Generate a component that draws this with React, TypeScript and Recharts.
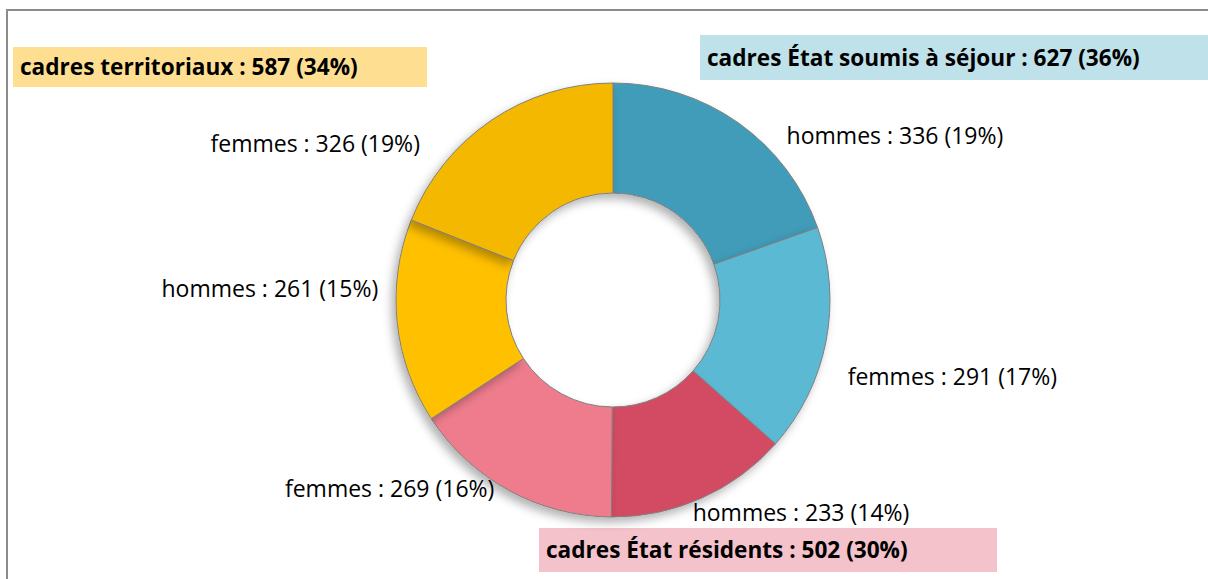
import { PieChart, Pie, Cell } from "recharts"

// slices, clockwise from 12 o'clock
const sliceNames = ["hommes", "femmes", "hommes", "femmes", "hommes", "femmes"]
const sliceValues = [336, 291, 233, 269, 261, 326]
const slicePercents = [19, 17, 14, 16, 15, 19]

// groups shown in the coloured boxes
const groupNames = ["cadres État soumis à séjour", "cadres État résidents", "cadres territoriaux"]
const groupValues = [627, 502, 587]
const groupPercents = [36, 30, 34]

const COLORS = ["#3F9CB9", "#5BB9D4", "#D24C62", "#EE7C8D", "#FFC000", "#F5B800"]
const BOX_COLORS = ["#BEE1EA", "#F3C2CA", "#FEDF92"]

// manual label nudges (Excel labels were dragged by hand)
const labelNudges = [
    [38, 27],
    [4, 31],
    [-16, -3],
    [-6, -18],
    [-1, -36],
    [-61, 37],
]

// box placement for the group annotations: left, top, width, height
const boxes = [
    [700, 35, 520, 45],
    [539, 528, 458, 44],
    [13, 47, 414, 40],
]

const FONT = "'Open Sans', 'Noto Sans', sans-serif"
const RAD = Math.PI / 180

const data = sliceNames.map((name, i) => ({
    name,
    value: sliceValues[i],
    pct: slicePercents[i],
}))

const renderLabel = (props: any) => {
    const { cx, cy, midAngle, outerRadius, index } = props
    const r = outerRadius + 18
    const cos = Math.cos(-midAngle * RAD)
    const sin = Math.sin(-midAngle * RAD)
    const [dx, dy] = labelNudges[index]
    const x = cx + r * cos + dx
    const y = cy + r * sin + dy
    const item = data[index]
    return (
        <text
            x={x}
            y={y}
            textAnchor={cos >= 0 ? "start" : "end"}
            dominantBaseline="central"
            fill="#000"
            fontSize={23}
            fontFamily={FONT}
        >
            {`${item.name} : ${item.value} (${item.pct}%)`}
        </text>
    )
}

export default function App() {
    return (
        <div style={{ position: "absolute", left: 0, top: 0, width: 1208, height: 579, background: "#fff", overflow: "hidden" }}>
            <div style={{ position: "absolute", left: 6, top: 9, width: 1210, height: 580, borderTop: "2px solid #8c8c8c", borderLeft: "2px solid #8c8c8c" }} />
            {groupNames.map((g, i) => {
                const [left, top, width, height] = boxes[i]
                return (
                    <div
                        key={g}
                        style={{
                            position: "absolute",
                            left,
                            top,
                            width,
                            height,
                            background: BOX_COLORS[i],
                            fontFamily: FONT,
                            fontWeight: 700,
                            fontSize: 22.6,
                            lineHeight: `${height}px`,
                            paddingLeft: 7,
                            boxSizing: "border-box",
                            whiteSpace: "nowrap",
                            color: "#000",
                        }}
                    >
                        {`${g} : ${groupValues[i]} (${groupPercents[i]}%)`}
                    </div>
                )
            })}
            <div style={{ position: "absolute", left: 0, top: 0 }}>
                <PieChart width={1208} height={579} margin={{ top: 0, right: 0, bottom: 0, left: 0 }}>
                    <defs>
                        <filter id="shadow" x="-20%" y="-20%" width="140%" height="140%">
                            <feDropShadow dx="-4" dy="5" stdDeviation="5" floodColor="#000" floodOpacity="0.3" />
                        </filter>
                    </defs>
                    <Pie
                        data={data}
                        dataKey="value"
                        nameKey="name"
                        cx={613}
                        cy={300}
                        innerRadius={107}
                        outerRadius={217}
                        startAngle={90}
                        endAngle={-270}
                        stroke="#7f7f7f"
                        strokeWidth={1}
                        label={renderLabel}
                        labelLine={false}
                        isAnimationActive={false}
                        style={{ filter: "url(#shadow)" }}
                    >
                        {data.map((d, i) => (
                            <Cell key={`cell-${i}`} fill={COLORS[i]} />
                        ))}
                    </Pie>
                </PieChart>
            </div>
        </div>
    )
}
